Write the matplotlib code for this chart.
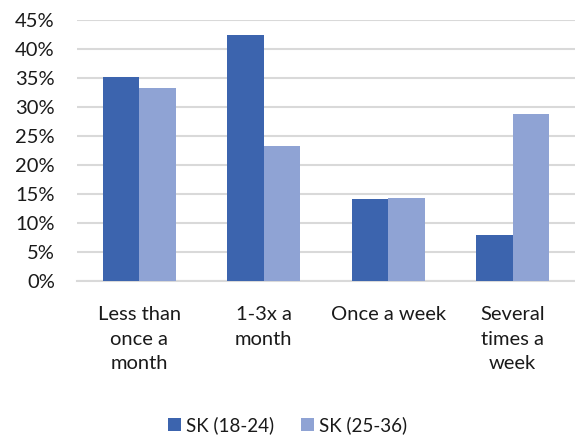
import matplotlib
matplotlib.use("Agg")
import matplotlib.pyplot as plt
import numpy as np
from matplotlib.ticker import FuncFormatter, MultipleLocator

categories = ["Less than\nonce a\nmonth", "1-3x a\nmonth", "Once a week", "Several\ntimes a\nweek"]
series_names = ["SK (18-24)", "SK (25-36)"]
sk_18_24 = [35.1, 42.5, 14.1, 8.0]
sk_25_36 = [33.3, 23.3, 14.3, 28.8]

dark = "#3C64AE"
light = "#8FA3D4"
font = "Lato"
fs = 14.5

fig = plt.figure(figsize=(5.75, 4.37), dpi=100)
ax = fig.add_axes([77 / 575, 1 - 281 / 437, (575 - 77) / 575, 261 / 437])

x = np.arange(len(categories))
w = 0.293
ax.bar(x - w / 2, sk_18_24, width=w, color=dark, label=series_names[0], zorder=3)
ax.bar(x + w / 2, sk_25_36, width=w, color=light, label=series_names[1], zorder=3)

ax.set_xlim(-0.5, len(categories) - 0.5)
ax.set_ylim(0, 45)
ax.yaxis.set_major_locator(MultipleLocator(5))
ax.yaxis.set_major_formatter(FuncFormatter(lambda v, p: f"{v:.0f}%"))
ax.grid(axis="y", color="#D9D9D9", linewidth=1.5, zorder=0)
ax.set_axisbelow(True)
for s in ["top", "right", "left"]:
    ax.spines[s].set_visible(False)
ax.spines["bottom"].set_color("#D9D9D9")
ax.spines["bottom"].set_linewidth(1.5)
ax.tick_params(axis="both", length=0, labelsize=fs, colors="#1a1a1a")
ax.tick_params(axis="y", pad=16)
ax.tick_params(axis="x", pad=18)
ax.set_xticks(x)
ax.set_xticklabels(categories, fontfamily=font, linespacing=1.55, va="top")
for lbl in ax.get_yticklabels():
    lbl.set_fontfamily(font)

leg = fig.legend(loc="center", bbox_to_anchor=(0.5, 1 - 425 / 437), ncol=2, frameon=False,
                 prop={"family": font, "size": 13.5}, handlelength=0.7, handleheight=0.7,
                 handletextpad=0.3, columnspacing=1.4)
for t in leg.get_texts():
    t.set_color("#1a1a1a")

fig.savefig("out.png", dpi=100)
